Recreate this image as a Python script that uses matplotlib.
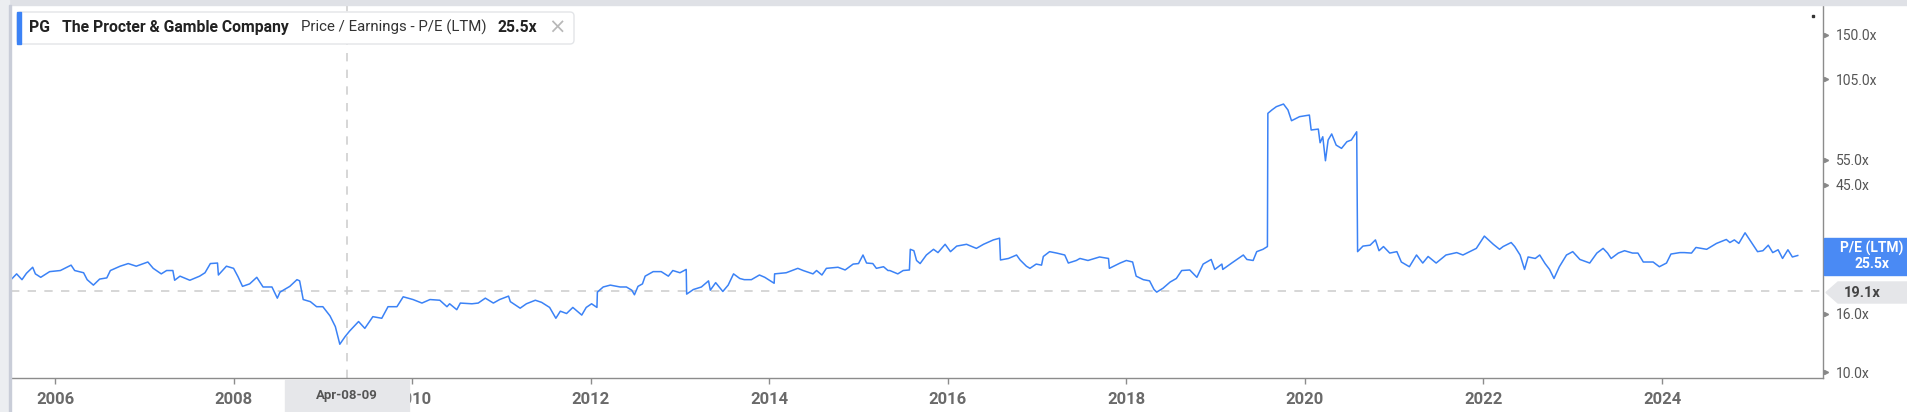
import matplotlib
matplotlib.use("Agg")
import matplotlib.pyplot as plt
from matplotlib.patches import Rectangle, FancyBboxPatch, Polygon
import matplotlib.transforms as mtransforms
import numpy as np

# ---------------- data ----------------
years = [2005.52, 2005.57, 2005.63, 2005.68, 2005.75, 2005.78, 2005.84, 2005.94,
         2006.06, 2006.18, 2006.22, 2006.32, 2006.36, 2006.43, 2006.50, 2006.58,
         2006.62, 2006.73, 2006.82, 2006.91, 2007.04, 2007.10, 2007.19, 2007.25,
         2007.32, 2007.34, 2007.40, 2007.51, 2007.62, 2007.68, 2007.74, 2007.82,
         2007.83, 2007.92, 2008.00, 2008.05, 2008.10, 2008.18, 2008.26, 2008.33,
         2008.43, 2008.49, 2008.52, 2008.63, 2008.71, 2008.74, 2008.78, 2008.86,
         2008.93, 2009.00, 2009.08, 2009.14, 2009.19, 2009.25, 2009.30, 2009.40,
         2009.47, 2009.56, 2009.66, 2009.73, 2009.83, 2009.90, 2010.01, 2010.11,
         2010.20, 2010.31, 2010.39, 2010.42, 2010.50, 2010.54, 2010.67, 2010.74,
         2010.82, 2010.91, 2010.98, 2011.08, 2011.10, 2011.21, 2011.28, 2011.38,
         2011.45, 2011.54, 2011.61, 2011.66, 2011.73, 2011.80, 2011.90, 2011.95,
         2012.01, 2012.07, 2012.075, 2012.14, 2012.22, 2012.33, 2012.40, 2012.46,
         2012.49, 2012.53, 2012.58, 2012.61, 2012.70, 2012.79, 2012.87, 2012.92,
         2013.00, 2013.07, 2013.075, 2013.15, 2013.24, 2013.32, 2013.34, 2013.40,
         2013.48, 2013.54, 2013.60, 2013.67, 2013.72, 2013.80, 2013.89, 2013.95,
         2014.055, 2014.06, 2014.19, 2014.32, 2014.38, 2014.49, 2014.53, 2014.59,
         2014.64, 2014.77, 2014.85, 2014.94, 2015.00, 2015.05, 2015.09, 2015.16,
         2015.20, 2015.28, 2015.33, 2015.35, 2015.44, 2015.50, 2015.57, 2015.58,
         2015.62, 2015.65, 2015.69, 2015.76, 2015.84, 2015.89, 2015.97, 2016.03,
         2016.10, 2016.21, 2016.32, 2016.40, 2016.51, 2016.58, 2016.59, 2016.68,
         2016.77, 2016.81, 2016.88, 2016.92, 2016.99, 2017.05, 2017.07, 2017.14,
         2017.22, 2017.31, 2017.35, 2017.44, 2017.48, 2017.57, 2017.70, 2017.80,
         2017.81, 2017.93, 2018.00, 2018.07, 2018.11, 2018.19, 2018.26, 2018.31,
         2018.34, 2018.41, 2018.49, 2018.56, 2018.62, 2018.71, 2018.79, 2018.86,
         2018.95, 2018.99, 2019.07, 2019.08, 2019.18, 2019.31, 2019.35, 2019.42,
         2019.46, 2019.53, 2019.58, 2019.585, 2019.63, 2019.68, 2019.76, 2019.81,
         2019.85, 2019.94, 2020.05, 2020.07, 2020.15, 2020.17, 2020.20, 2020.23,
         2020.26, 2020.30, 2020.35, 2020.41, 2020.47, 2020.52, 2020.58, 2020.59,
         2020.65, 2020.73, 2020.79, 2020.83, 2020.88, 2020.95, 2021.03, 2021.08,
         2021.17, 2021.25, 2021.32, 2021.38, 2021.47, 2021.58, 2021.70, 2021.77,
         2021.92, 2022.01, 2022.11, 2022.18, 2022.22, 2022.31, 2022.35, 2022.41,
         2022.46, 2022.50, 2022.58, 2022.63, 2022.69, 2022.74, 2022.79, 2022.85,
         2022.93, 2023.00, 2023.08, 2023.19, 2023.27, 2023.34, 2023.39, 2023.43,
         2023.51, 2023.58, 2023.67, 2023.73, 2023.79, 2023.90, 2023.97, 2024.05,
         2024.10, 2024.20, 2024.25, 2024.33, 2024.38, 2024.50, 2024.61, 2024.72,
         2024.76, 2024.81, 2024.86, 2024.93, 2024.98, 2025.07, 2025.13, 2025.19,
         2025.24, 2025.30, 2025.35, 2025.41, 2025.46, 2025.52]

pe = [21.2, 22.0, 21.0, 22.1, 23.2, 22.0, 21.4, 22.4,
      22.6, 23.6, 22.6, 22.2, 21.0, 20.1, 21.1, 21.3,
      22.6, 23.4, 23.9, 23.4, 24.2, 23.0, 22.0, 22.6,
      22.6, 20.9, 21.6, 20.9, 21.6, 22.2, 23.9, 24.0,
      21.8, 23.4, 23.0, 21.5, 19.9, 20.3, 21.4, 19.8,
      19.8, 18.1, 19.0, 19.9, 21.0, 20.8, 17.9, 17.6,
      16.9, 16.9, 15.7, 14.4, 12.5, 13.3, 13.9, 15.0,
      14.2, 15.6, 15.4, 16.9, 16.9, 18.3, 17.9, 17.4,
      17.9, 17.8, 16.9, 17.3, 16.5, 17.4, 17.3, 17.4,
      18.1, 17.4, 17.9, 18.4, 17.6, 16.7, 17.3, 17.8,
      17.5, 16.8, 15.4, 16.3, 16.0, 16.8, 15.8, 16.8,
      17.3, 16.8, 19.0, 19.8, 20.1, 19.8, 19.8, 19.3,
      18.6, 19.9, 20.3, 21.6, 22.4, 22.4, 21.6, 22.6,
      22.2, 22.8, 18.7, 19.4, 19.8, 20.8, 19.3, 20.5,
      19.1, 20.1, 22.0, 21.2, 21.0, 21.0, 21.8, 21.4,
      20.4, 22.0, 22.2, 23.0, 22.6, 22.0, 22.6, 21.8,
      23.0, 23.2, 22.7, 23.8, 23.9, 25.6, 24.0, 23.9,
      23.0, 23.3, 22.6, 22.6, 22.0, 22.6, 22.7, 26.8,
      26.5, 24.5, 23.9, 25.6, 26.8, 26.1, 27.9, 26.3,
      27.5, 27.9, 27.0, 27.9, 28.9, 29.3, 24.6, 24.9,
      25.6, 24.6, 23.4, 23.0, 23.8, 23.6, 25.3, 26.3,
      26.0, 25.6, 24.0, 24.5, 24.9, 24.5, 25.2, 24.9,
      23.0, 24.0, 24.5, 24.2, 21.6, 21.0, 20.8, 19.4,
      19.0, 19.6, 20.6, 21.2, 22.6, 22.7, 21.4, 23.8,
      24.7, 22.8, 23.8, 22.8, 24.0, 25.6, 24.7, 24.5,
      26.3, 26.8, 27.4, 79.9, 82.1, 84.3, 86.1, 82.1,
      75.3, 77.8, 78.8, 69.9, 70.4, 63.1, 66.2, 54.6,
      64.5, 67.7, 61.9, 60.3, 63.6, 64.5, 68.9, 26.3,
      27.5, 27.7, 28.9, 26.5, 27.4, 26.0, 26.3, 24.2,
      23.3, 25.6, 24.0, 25.3, 24.0, 25.6, 26.1, 25.6,
      27.0, 29.8, 27.9, 26.8, 27.4, 28.3, 27.4, 25.6,
      22.8, 25.2, 24.9, 25.6, 23.9, 22.8, 21.2, 23.3,
      25.6, 26.3, 24.7, 24.0, 26.0, 27.0, 26.0, 24.9,
      26.0, 26.5, 26.0, 26.0, 24.2, 24.2, 23.3, 24.0,
      25.8, 26.1, 26.1, 26.0, 27.2, 26.8, 28.1, 29.0,
      28.3, 28.9, 28.1, 30.6, 29.0, 26.3, 26.5, 27.7,
      26.1, 26.7, 24.9, 26.7, 25.2, 25.5]

ytick_values = [10.0, 16.0, 45.0, 55.0, 105.0, 150.0]
xtick_years = [2006, 2008, 2010, 2012, 2014, 2016, 2018, 2020, 2022, 2024]
reference_pe = 19.1
current_pe = 25.5
crosshair_year = 2009.266
crosshair_label = "Apr-08-09"
ticker = "PG"
company = "The Procter & Gamble Company"
metric = "Price / Earnings - P/E (LTM)"
metric_short = "P/E (LTM)"

# ---------------- figure ----------------
W, H = 1907, 412
plt.rcParams['font.family'] = ['Roboto', 'DejaVu Sans']
fig = plt.figure(figsize=(W / 100, H / 100), dpi=100)
fig.patch.set_facecolor('white')

L, R, T, B = 11, 1823, 5, 378
ax = fig.add_axes([L / W, (H - B) / H, (R - L) / W, (B - T) / H])
ax.set_yscale('log')
ax.set_xlim(2005.507, 2025.803)
ax.set_ylim(9.53, 190.8)

LINE = '#3b82f6'
ax.plot(years, pe, color=LINE, lw=1.1, zorder=3, solid_joinstyle='round')

# dashed reference lines
ax.axhline(reference_pe, color='#cfcfcf', lw=1.2, ls=(0, (5, 5)), zorder=1)
ax.axvline(crosshair_year, color='#cfcfcf', lw=1.2, ls=(0, (5, 5)), zorder=1)

for s in ['left', 'top']:
    ax.spines[s].set_visible(False)
for s in ['right', 'bottom']:
    ax.spines[s].set_color('#8c8c8c')
    ax.spines[s].set_linewidth(1.0)

# y axis on the right
ax.yaxis.tick_right()
ax.yaxis.set_minor_locator(matplotlib.ticker.NullLocator())
ax.set_yticks(ytick_values)
ax.set_yticklabels([f"{v:.1f}x" for v in ytick_values])
ax.tick_params(axis='y', length=0, pad=9, labelsize=10, labelcolor='#555555')
trans = mtransforms.blended_transform_factory(ax.transAxes, ax.transData)
ax.plot([1.0 + 2.5 / (R - L)] * len(ytick_values), ytick_values, ls='none',
        marker='>', ms=3, color='#888888', transform=trans, clip_on=False)

# x axis
ax.set_xticks(xtick_years)
ax.set_xticklabels([str(y) for y in xtick_years])
ax.tick_params(axis='x', length=4.3, width=1, color='#8c8c8c', pad=6,
               labelsize=12, labelcolor='#6a6a6a')
for lab in ax.get_xticklabels():
    lab.set_fontweight('bold')

ident = mtransforms.IdentityTransform()


def px(x, y):
    return (x, H - y)


# frame decorations (top band, left strip)
fig.patches.append(Rectangle(px(0, 5), W, 5, transform=ident, color='#dfe1e6', zorder=6))
fig.patches.append(Rectangle(px(0, 412), 9, 412, transform=ident, color='#eceef1', zorder=6))
fig.patches.append(Rectangle(px(9, 412), 2, 407, transform=ident, color='#c9cdd8', zorder=6))
fig.patches.append(Rectangle(px(1812, 17), 2, 2, transform=ident, color='#333333', zorder=6))

# crosshair date label
fig.patches.append(Rectangle(px(285, 412), 124, 32, transform=ident, color='#e6e7ea', zorder=6))
fig.text(347 / W, 1 - 395 / H, crosshair_label, ha='center', va='center',
         fontsize=9.5, color='#555555', fontweight='bold', zorder=7)

# current value box
fig.patches.append(Rectangle(px(1824, 275), 83, 37, transform=ident, color='#4a8af4', zorder=6))
fig.text(1872 / W, 1 - 248 / H, metric_short, ha='center', va='center',
         fontsize=10, color='white', fontweight='bold', zorder=7)
fig.text(1872 / W, 1 - 264 / H, f"{current_pe:.1f}x", ha='center', va='center',
         fontsize=10, color='white', fontweight='bold', zorder=7)

# reference value arrow box
poly = Polygon([px(1826, 292.5), px(1838, 282), px(1907, 282), px(1907, 303), px(1838, 303)],
               closed=True, transform=ident, color='#e5e6e9', zorder=6)
fig.patches.append(poly)
fig.text(1862 / W, 1 - 293 / H, f"{reference_pe:.1f}x", ha='center', va='center',
         fontsize=10.5, color='#444444', fontweight='bold', zorder=7)

# legend card
card = FancyBboxPatch(px(17, 44), 557, 32, boxstyle='round,pad=0,rounding_size=4',
                      transform=ident, facecolor='white', edgecolor='#e3e5e8', lw=1, zorder=6)
fig.patches.append(card)
fig.patches.append(Rectangle(px(17, 44), 4, 32, transform=ident, color='#3b82f6', zorder=7))
ty = 1 - 27.5 / H
fig.text(29 / W, ty, ticker, ha='left', va='center', fontsize=11.3, fontweight='bold',
         color='#222222', zorder=8)
fig.text(62 / W, ty, company, ha='left', va='center', fontsize=11.3, fontweight='bold',
         color='#222222', zorder=8)
fig.text(301 / W, ty, metric, ha='left', va='center', fontsize=10.8,
         color='#333333', zorder=8)
fig.text(498 / W, ty, f"{current_pe:.1f}x", ha='left', va='center', fontsize=11.3,
         fontweight='bold', color='#222222', zorder=8)
fig.text(557 / W, ty, "\u00d7", ha='center', va='center', fontsize=15,
         color='#b8b8b8', zorder=8, family=['DejaVu Sans'])

fig.savefig('out.png', dpi=100)
